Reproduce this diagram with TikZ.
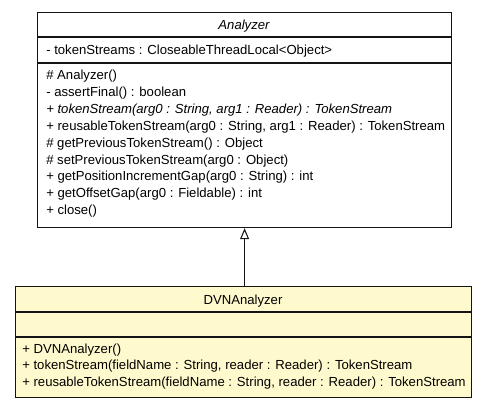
\documentclass[tikz,border=0pt]{standalone}
\usepackage{fontspec}
\setmainfont{Liberation Sans}
\usetikzlibrary{arrows.meta}
\definecolor{classfill}{RGB}{255,250,205}
\definecolor{classline}{RGB}{20,20,20}
\begin{document}
\begin{tikzpicture}[x=0.75pt,y=-0.75pt,
  classbox/.style={draw=classline, line width=0.9pt, inner sep=0pt, anchor=north west},
  sepline/.style={draw=classline, line width=0.9pt},
  member/.style={anchor=base west, inner sep=0pt, font=\fontsize{9.85pt}{12pt}\selectfont},
  classname/.style={anchor=base, inner sep=0pt, font=\fontsize{9.85pt}{12pt}\selectfont},
  extends/.style={draw=classline, line width=0.8pt, -{Triangle[open, length=8.25pt, width=6.75pt, fill=white]}}]
\useasboundingbox (0,0) rectangle (485,408);

% Abstract base class
\node[classbox, minimum width=310.5pt, minimum height=161.25pt] (analyzer) at (37,12) {};
\draw[sepline] (37,37) -- (451,37);
\draw[sepline] (37,63) -- (451,63);
\node[classname] (analyzername) at (244,29.5) {\itshape Analyzer};
\node[member] (a0) at (46,54.5) {- tokenStreams : CloseableThreadLocal<Object>};
\node[member] (m1) at (46,79.5) {\# Analyzer()};
\node[member] (m2) at (46,96.4) {- assertFinal() : boolean};
\node[member] (m3) at (46,113.3) {\itshape + tokenStream(arg0 : String, arg1 : Reader) : TokenStream};
\node[member] (m4) at (46,130.2) {+ reusableTokenStream(arg0 : String, arg1 : Reader) : TokenStream};
\node[member] (m5) at (46,147.1) {\# getPreviousTokenStream() : Object};
\node[member] (m6) at (46,164.0) {\# setPreviousTokenStream(arg0 : Object)};
\node[member] (m7) at (46,180.9) {+ getPositionIncrementGap(arg0 : String) : int};
\node[member] (m8) at (46,197.8) {+ getOffsetGap(arg0 : Fieldable) : int};
\node[member] (m9) at (46,214.7) {+ close()};

% Concrete subclass
\node[classbox, fill=classfill, minimum width=342pt, minimum height=83.25pt] (dvn) at (15,286) {};
\draw[sepline] (15,312) -- (471,312);
\draw[sepline] (15,337) -- (471,337);
\node[classname] (dvnname) at (243,304) {DVNAnalyzer};
\node[member] (d1) at (22,353) {+ DVNAnalyzer()};
\node[member] (d2) at (22,369.5) {+ tokenStream(fieldName : String, reader : Reader) : TokenStream};
\node[member] (d3) at (22,386) {+ reusableTokenStream(fieldName : String, reader : Reader) : TokenStream};

% Generalization
\draw[extends] (dvn.north -| analyzer.south) -- (analyzer.south);
\end{tikzpicture}
\end{document}
